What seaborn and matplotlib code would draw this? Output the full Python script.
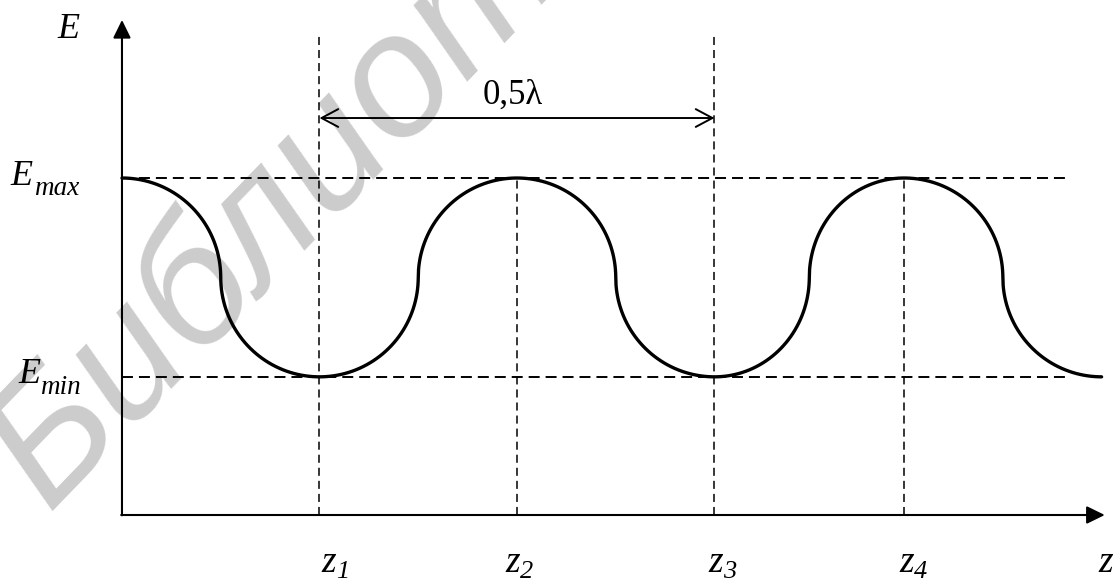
import matplotlib
matplotlib.use("Agg")
import matplotlib.pyplot as plt
import numpy as np
import pandas as pd
import seaborn as sns

# -----------------------------------------------------------------
# DATA (z in wavelengths, E in units of E_max)
# -----------------------------------------------------------------
E_max = 1.0
E_min = 0.41
z_marks = [0.25, 0.50, 0.75, 0.99]          # z1 .. z4
z_names = ["1", "2", "3", "4"]
ext_z = [0.0, 0.25, 0.50, 0.75, 0.99, 1.24]  # extrema of the envelope
ext_E = [E_max, E_min, E_max, E_min, E_max, E_min]
span_z = [0.25, 0.75]                        # the 0,5 lambda span
span_label = "0,5λ"
watermark = "Библиотека БГУИР"

W, H = 1117, 582
SERIF = "Liberation Serif"


def envelope(z, E):
    """Chain of quarter circles between neighbouring extrema."""
    mid = (E_max + E_min) / 2
    ry = (E_max - E_min) / 2
    t = np.linspace(0, np.pi / 2, 80)
    xs, ys = [], []
    for za, zb, Ea in zip(z[:-1], z[1:], E[:-1]):
        rx = (zb - za) / 2
        s = 1 if Ea > mid else -1
        xs += list(za + rx * np.sin(t))
        ys += list(mid + s * ry * np.cos(t))
        xs += list(zb - rx * np.cos(t))
        ys += list(mid - s * ry * np.sin(t))
    return pd.DataFrame({"z": xs, "E": ys, "order": range(len(xs))})


def fig_text(x, y, s, **kw):
    # x, y in pixels from top-left corner of the picture
    ax.text(x / W, 1 - y / H, s, transform=fig.transFigure, **kw)


sns.set_theme(style="white")
plt.rcParams["lines.scale_dashes"] = False

fig = plt.figure(figsize=(W / 100, H / 100), dpi=100)
ax = fig.add_axes([0, 0, 1, 1])
ax.axis("off")
ax.set_xlim(-0.1544, 1.2595)
ax.set_ylim(-0.1988, 1.5282)

# watermark, kept behind the drawing
fig_text(50, 515, watermark, rotation=46, rotation_mode="anchor",
         ha="left", va="baseline", fontsize=126, color="#cccccc",
         family="Liberation Sans", style="italic", zorder=0)

# dashed guides
dash_h = (0, (7.9, 4.3))
dash_v = (0, (5.8, 3.6))
for level in [E_max, E_min]:
    ax.plot([0, 1.194], [level, level], color="black", lw=1.4, ls=dash_h, zorder=2)
for i, zm in enumerate(z_marks):
    top = 1.43 if i % 2 == 0 else E_max
    ax.plot([zm, zm], [0, top], color="black", lw=1.1, ls=dash_v, zorder=2)

# envelope curve
curve = envelope(ext_z, ext_E)
sns.lineplot(data=curve, x="z", y="E", sort=False, estimator=None,
             color="black", linewidth=2.4, ax=ax, zorder=3)

# coordinate axes with filled arrow heads
axis_style = "-|>,head_length=0.55,head_width=0.27"
ax.annotate("", xy=(1.244, 0), xytext=(-0.001, 0), zorder=4,
            arrowprops=dict(arrowstyle=axis_style, color="black", lw=1.5,
                            mutation_scale=20, shrinkA=0, shrinkB=0))
ax.annotate("", xy=(0, 1.469), xytext=(0, -0.001), zorder=4,
            arrowprops=dict(arrowstyle=axis_style, color="black", lw=1.5,
                            mutation_scale=20, shrinkA=0, shrinkB=0))

# 0,5 lambda span
ax.annotate("", xy=(span_z[1], 1.178), xytext=(span_z[0], 1.178), zorder=4,
            arrowprops=dict(arrowstyle="<->,head_length=0.6,head_width=0.32",
                            color="black", lw=1.4, mutation_scale=20,
                            shrinkA=0, shrinkB=0))
fig_text(513, 104, span_label, ha="center", va="baseline",
         fontsize=25, family=SERIF, color="black", zorder=5)

# axis labels
it = dict(family=SERIF, style="italic", color="black", va="baseline",
          ha="left", zorder=5)
fig_text(57, 38, "E", fontsize=26, **it)
fig_text(10, 185, "E", fontsize=26, **it)
fig_text(34, 195, "max", fontsize=19.5, **it)
fig_text(18, 383, "E", fontsize=26, **it)
fig_text(40, 394, "min", fontsize=19.5, **it)

z_shift = [2, -12, -6, -5]
for zm, name, dx in zip(z_marks, z_names, z_shift):
    px = 122 + zm * 790 + dx
    fig_text(px, 572, "z", fontsize=27, **it)
    fig_text(px + 15, 578, name, fontsize=19, **it)
fig_text(1098, 572, "z", fontsize=27, **it)

fig.savefig("out.png", dpi=100)
